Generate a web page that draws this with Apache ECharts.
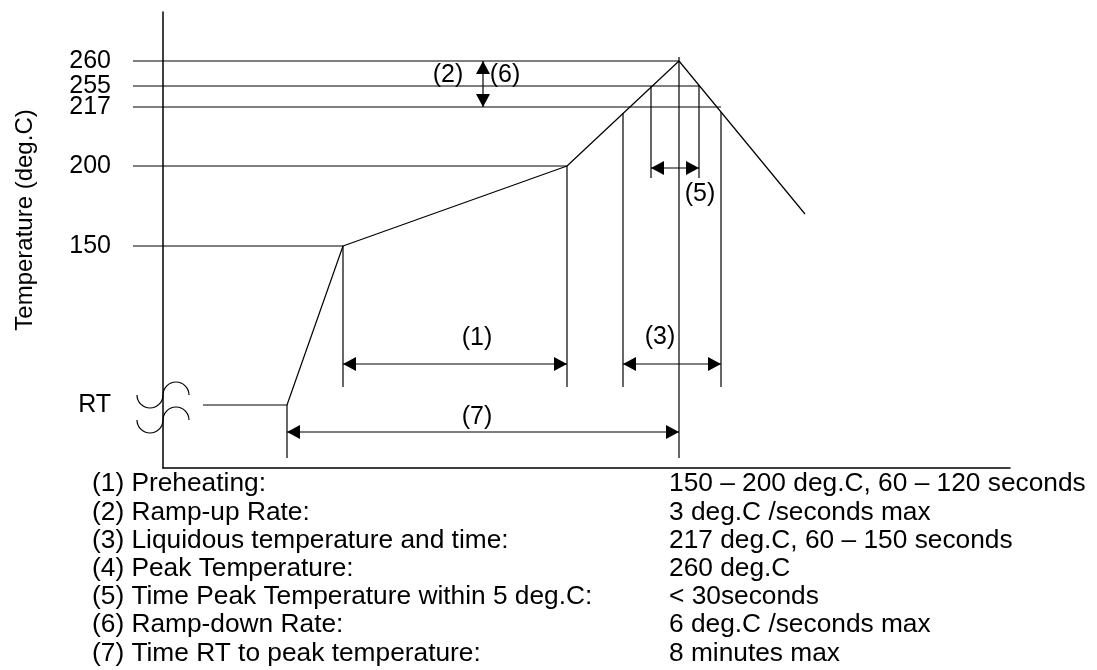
<!DOCTYPE html>
<html>
<head>
<meta charset="utf-8">
<script src="https://cdn.jsdelivr.net/npm/echarts@6/dist/echarts.min.js"></script>
<style>
  html, body { margin: 0; padding: 0; background: #fff; }
  #chart { width: 1097px; height: 670px; }
</style>
</head>
<body>
<div id="chart"></div>
<script>
// ---- Schematic reflow profile data (schematic units: time from the Y axis, height above the time axis) ----
const tempLabels = ['RT', '150', '200', '217', '255', '260'];
const tempLevels = [63, 222, 302, 361, 382, 407];

// profile line (time, level)
const profileTime  = [40, 124, 180, 404, 516, 642];
const profileLevel = [63, 63, 222, 302, 407, 254];

// horizontal guide lines from the temperature labels to the profile
const guideStart = -30;
const guideLevel = [222, 302, 361, 382, 407];
const guideEnd   = [180, 404, 558, 536, 516];

// vertical marker lines
const markerTime   = [124, 180, 404, 460, 488, 516, 536, 558];
const markerTop    = [63, 222, 302, 355, 382, 411, 382, 356];
const markerBottom = [10, 81, 81, 81, 290, 10, 290, 81];

// dimension arrows (double headed)
const arrowStartX = [180, 460, 124, 488, 320];
const arrowStartY = [104, 104, 36, 300, 407];
const arrowEndX   = [404, 558, 516, 536, 320];
const arrowEndY   = [104, 104, 36, 300, 361];

// dimension notes
const noteText = ['(1)', '(3)', '(7)', '(5)', '(2)', '(6)'];
const noteX    = [314, 497, 314, 537, 285, 342];
const noteY    = [130, 131, 51, 274, 393, 393];

// axis break marks on the Y axis (levels)
const breakLevels = [73, 48];

// explanation list
const legendItems = [
  '(1) Preheating:',
  '(2) Ramp-up Rate:',
  '(3) Liquidous temperature and time:',
  '(4) Peak Temperature:',
  '(5) Time Peak Temperature within 5 deg.C:',
  '(6) Ramp-down Rate:',
  '(7) Time RT to peak temperature:'
];
const legendValues = [
  '150 – 200 deg.C, 60 – 120 seconds',
  '3 deg.C /seconds max',
  '217 deg.C, 60 – 150 seconds',
  '260 deg.C',
  '< 30seconds',
  '6 deg.C /seconds max',
  '8 minutes max'
];
const yTitle = 'Temperature (deg.C)';

// ---- build ----
const FONT = '"Liberation Sans", Arial, Helvetica, sans-serif';
const INK = '#000';
const LW = 1.2;

const profileData = profileTime.map((t, i) => [t, profileLevel[i]]);
const segData = [];
guideLevel.forEach((lv, i) => segData.push([guideStart, lv, guideEnd[i], lv]));
markerTime.forEach((t, i) => segData.push([t, markerTop[i], t, markerBottom[i]]));
const arrowData = arrowStartX.map((x, i) => [x, arrowStartY[i], arrowEndX[i], arrowEndY[i]]);
const noteData = noteText.map((s, i) => [noteX[i], noteY[i], s]);
const breakData = breakLevels.map(l => [0, l]);

function renderSeg(params, api) {
  const p1 = api.coord([api.value(0), api.value(1)]);
  const p2 = api.coord([api.value(2), api.value(3)]);
  return { type: 'line', shape: { x1: p1[0], y1: p1[1], x2: p2[0], y2: p2[1] },
           style: { stroke: INK, lineWidth: LW } };
}

function renderArrow(params, api) {
  const p1 = api.coord([api.value(0), api.value(1)]);
  const p2 = api.coord([api.value(2), api.value(3)]);
  const dx = p2[0] - p1[0], dy = p2[1] - p1[1];
  const len = Math.hypot(dx, dy) || 1;
  const ux = dx / len, uy = dy / len;
  const nx = -uy, ny = ux;
  const L = 13, W = 7;
  const headAt = (tip, sx, sy) => {
    const bx = tip[0] - sx * L, by = tip[1] - sy * L;
    return [[tip[0], tip[1]], [bx + nx * W, by + ny * W], [bx - nx * W, by - ny * W]];
  };
  return {
    type: 'group',
    children: [
      { type: 'line', shape: { x1: p1[0], y1: p1[1], x2: p2[0], y2: p2[1] },
        style: { stroke: INK, lineWidth: LW } },
      { type: 'polygon', shape: { points: headAt(p2, ux, uy) }, style: { fill: INK } },
      { type: 'polygon', shape: { points: headAt(p1, -ux, -uy) }, style: { fill: INK } }
    ]
  };
}

function renderNote(params, api) {
  const p = api.coord([api.value(0), api.value(1)]);
  return { type: 'text', x: p[0], y: p[1],
           style: { text: noteData[params.dataIndex][2], fontSize: 25, fontFamily: FONT,
                    fill: INK, align: 'center', verticalAlign: 'middle' } };
}

function renderBreak(params, api) {
  const c = api.coord([api.value(0), api.value(1)]);
  const r = 13;
  return {
    type: 'group',
    children: [
      { type: 'arc', shape: { cx: c[0] - r, cy: c[1], r: r, startAngle: 0, endAngle: Math.PI, clockwise: true },
        style: { stroke: INK, fill: null, lineWidth: LW } },
      { type: 'arc', shape: { cx: c[0] + r, cy: c[1], r: r, startAngle: Math.PI, endAngle: 2 * Math.PI, clockwise: true },
        style: { stroke: INK, fill: null, lineWidth: LW } }
    ]
  };
}

const chart = echarts.init(document.getElementById('chart'), null, { renderer: 'canvas' });
chart.setOption({
  animation: false,
  backgroundColor: '#fff',
  grid: { left: 163, right: 87, top: 12, bottom: 202, containLabel: false },
  xAxis: {
    type: 'value', min: 0, max: 847,
    axisLine: { show: true, onZero: false, lineStyle: { color: INK, width: 1.5 } },
    axisTick: { show: false }, axisLabel: { show: false }, splitLine: { show: false }
  },
  yAxis: {
    type: 'value', min: 0, max: 456,
    axisLine: { show: true, onZero: false, lineStyle: { color: INK, width: 1.5 } },
    axisTick: { show: false }, splitLine: { show: false },
    axisLabel: {
      show: true,
      customValues: tempLevels,
      formatter: v => { const i = tempLevels.indexOf(v); return i >= 0 ? tempLabels[i] : ''; },
      margin: 52, fontSize: 25, fontFamily: FONT, color: INK,
      padding: [0, 0, 10, 0], hideOverlap: false
    }
  },
  graphic: [
    { type: 'text', x: 25, y: 220, rotation: Math.PI / 2,
      style: { text: yTitle, fontSize: 24, fontFamily: FONT, fill: INK, align: 'center', verticalAlign: 'middle' } },
    { type: 'text', x: 92, y: 470,
      style: { text: legendItems.join('\n'), fontSize: 26.3, lineHeight: 28.2, fontFamily: FONT, fill: INK, align: 'left', verticalAlign: 'top' } },
    { type: 'text', x: 669, y: 470,
      style: { text: legendValues.join('\n'), fontSize: 26.3, lineHeight: 28.2, fontFamily: FONT, fill: INK, align: 'left', verticalAlign: 'top' } }
  ],
  series: [
    { type: 'line', name: 'profile', data: profileData, symbol: 'none', clip: false,
      lineStyle: { color: INK, width: LW }, silent: true },
    { type: 'custom', name: 'guides', data: segData, renderItem: renderSeg, clip: false,
      encode: { x: [0, 2], y: [1, 3] }, silent: true },
    { type: 'custom', name: 'arrows', data: arrowData, renderItem: renderArrow, clip: false,
      encode: { x: [0, 2], y: [1, 3] }, silent: true },
    { type: 'custom', name: 'notes', data: noteData.map(d => [d[0], d[1]]), renderItem: renderNote, clip: false,
      encode: { x: 0, y: 1 }, silent: true },
    { type: 'custom', name: 'break', data: breakData, renderItem: renderBreak, clip: false,
      encode: { x: 0, y: 1 }, silent: true }
  ]
});
</script>
</body>
</html>
